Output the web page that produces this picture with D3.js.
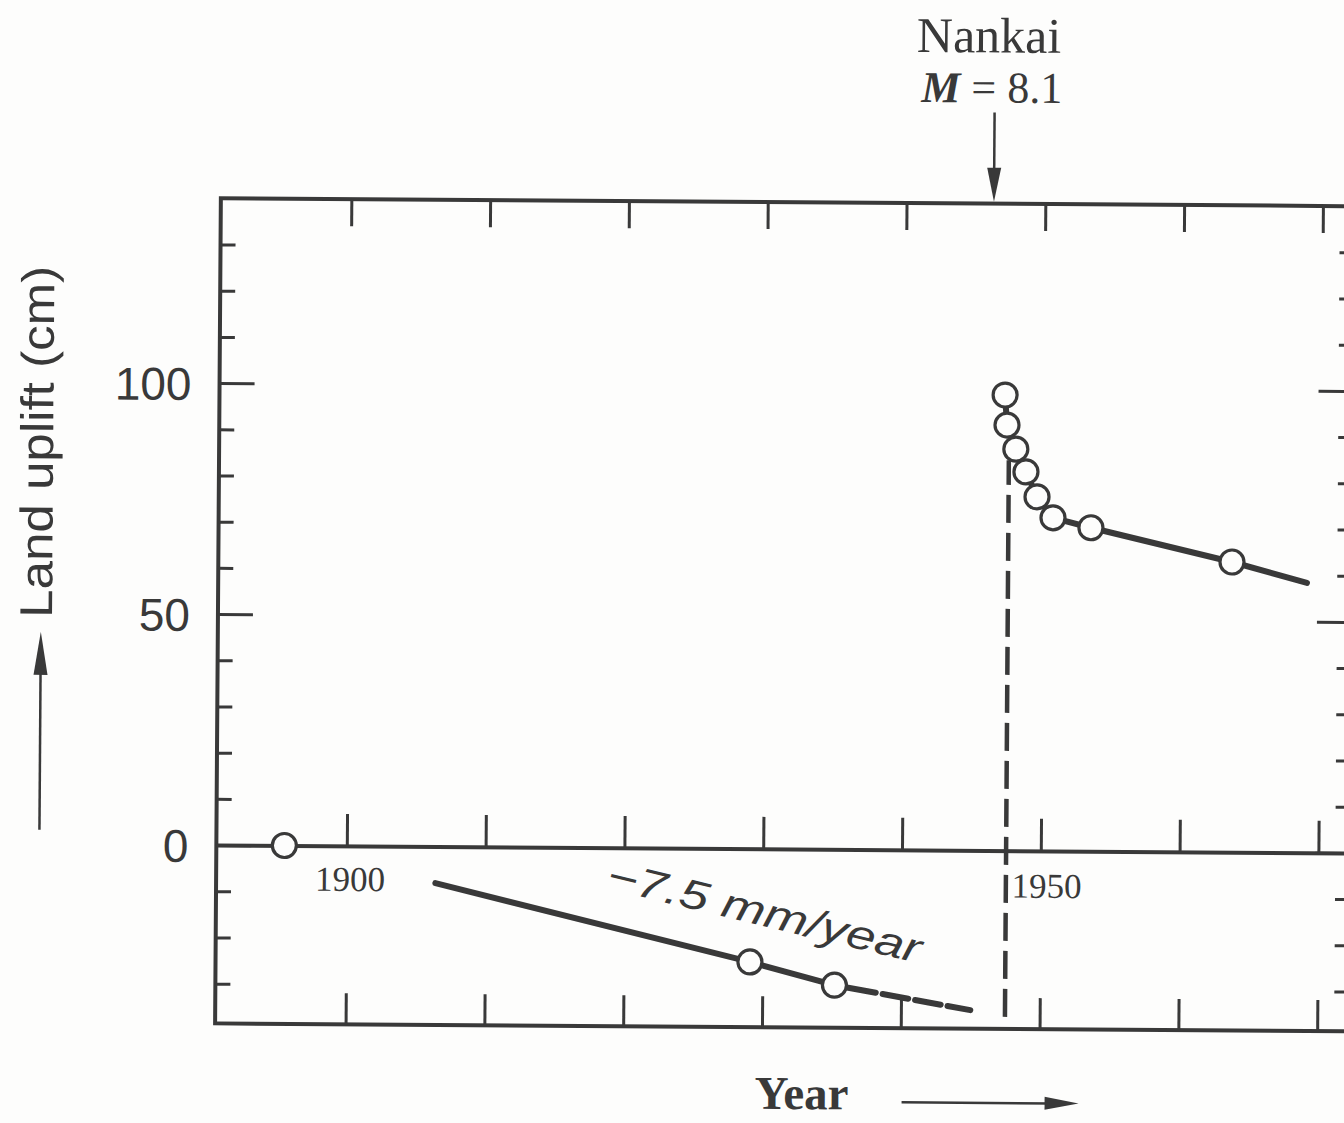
<!DOCTYPE html>
<html><head><meta charset="utf-8">
<script src="https://cdn.jsdelivr.net/npm/d3@7"></script>
<style>
html,body{margin:0;padding:0;background:#fdfdfc;}
svg{display:block;}
</style></head><body>
<svg id="chart" width="1344" height="1123"></svg>
<script>
// ---------------- data ----------------
const decadeTicks = [1900, 1910, 1920, 1930, 1940, 1950, 1960, 1970];
const labeledYears = [1900, 1950];
const yMajorTicks = [0, 50, 100];
const yMinorTicks = [-30, -20, -10, 10, 20, 30, 40, 60, 70, 80, 90, 110, 120, 130];

// observed benchmark values (open circles)
const obsYears  = [1895.5, 1929.1, 1935.2, 1947.2, 1947.35, 1948.0, 1948.74, 1949.55, 1950.71, 1953.45, 1963.63];
const obsValues = [0, -24.5, -29.4, 98.6, 92.1, 86.9, 82.0, 76.6, 72.1, 70.0, 62.8];

// pre-earthquake subsidence trend (solid) and its extrapolation (dashed)
const preTrendYears  = [1906.4, 1929.1, 1935.2];
const preTrendValues = [-7.9, -24.5, -29.4];
const extrapYears  = [1935.2, 1945.0];
const extrapValues = [-29.4, -34.6];

// post-earthquake curve
const postYears  = [1947.2, 1947.35, 1948.0, 1948.74, 1949.55, 1950.71, 1953.45, 1963.63, 1969.04];
const postValues = [98.6, 92.1, 86.9, 82.0, 76.6, 72.1, 70.0, 62.8, 58.4];

// coseismic jump (dashed vertical)
const jumpYear = 1947.5;
const jumpRange = [-36, 84.5];

// earthquake annotation
const quakeArrowYear = 1946.3;
const quakeName = "Nankai";
const quakeMag = "8.1";
const rateLabel = "\u22127.5 mm/year";
const rateAnchor = [1918.6, -8.7];

// ---------------- drawing ----------------
const ink = "#393939";
const bg = "#fdfdfc";
const svg = d3.select("#chart");
svg.append("rect").attr("width", 1344).attr("height", 1123).attr("fill", bg);

const root = svg.append("g").attr("transform", "rotate(0.4,780,610)");

const x = d3.scaleLinear().domain([1890.6, 1972.3]).range([218, 1352]);
const y = d3.scaleLinear().domain([-38.6, 140]).range([1027.3, 202.2]);
const [xL, xR] = x.range();
const [yB, yT] = y.range();

function style(g, w) {
  g.select(".domain").remove();
  g.selectAll(".tick line").attr("stroke", ink).attr("stroke-width", w);
}

// frame (left, top, bottom; right lies just outside the window)
root.append("rect")
  .attr("x", xL).attr("y", yT).attr("width", xR - xL).attr("height", yB - yT)
  .attr("fill", "none").attr("stroke", ink).attr("stroke-width", 4);

// left y axis
root.append("g").attr("transform", `translate(${xL},0)`)
  .call(d3.axisLeft(y).tickValues(yMinorTicks).tickSize(-15).tickFormat(""))
  .call(g => style(g, 3));
const leftMajor = root.append("g").attr("transform", `translate(${xL},0)`)
  .call(d3.axisLeft(y).tickValues(yMajorTicks).tickSize(-35).tickPadding(28).tickFormat(d3.format("d")))
  .call(g => style(g, 3));
leftMajor.selectAll("text")
  .attr("fill", ink).attr("font-family", "'Liberation Sans', Arial, sans-serif")
  .attr("font-size", 46).attr("dy", "0.36em");

// right y axis
root.append("g").attr("transform", `translate(${xR},0)`)
  .call(d3.axisRight(y).tickValues(yMinorTicks).tickSize(-15).tickFormat(""))
  .call(g => style(g, 3));
root.append("g").attr("transform", `translate(${xR},0)`)
  .call(d3.axisRight(y).tickValues(yMajorTicks).tickSize(-35).tickFormat(""))
  .call(g => style(g, 3));

// top x ticks
root.append("g").attr("transform", `translate(0,${yT})`)
  .call(d3.axisTop(x).tickValues(decadeTicks).tickSize(-27).tickFormat(""))
  .call(g => style(g, 3));
// bottom x ticks
root.append("g").attr("transform", `translate(0,${yB})`)
  .call(d3.axisBottom(x).tickValues(decadeTicks).tickSize(-31).tickFormat(""))
  .call(g => style(g, 3));
// zero line with upward ticks
const zeroAxis = root.append("g").attr("transform", `translate(0,${y(0)})`)
  .call(d3.axisTop(x).tickValues(decadeTicks).tickSize(32).tickSizeOuter(0).tickFormat(""));
zeroAxis.select(".domain").attr("stroke", ink).attr("stroke-width", 4);
zeroAxis.selectAll(".tick line").attr("stroke", ink).attr("stroke-width", 3);

// year labels under zero line
root.append("g").selectAll("text").data(labeledYears).join("text")
  .attr("x", d => x(d) + (d === 1950 ? 6 : 3.5))
  .attr("y", d => y(0) + (d === 1950 ? 47 : 45))
  .attr("text-anchor", "middle")
  .attr("font-family", "'Liberation Serif', 'Times New Roman', serif")
  .attr("font-size", 35).attr("fill", ink)
  .text(d => String(d));

// lines
const line = d3.line().x(d => x(d[0])).y(d => y(d[1]));
root.append("path")
  .attr("d", line(d3.zip(preTrendYears, preTrendValues)))
  .attr("fill", "none").attr("stroke", ink).attr("stroke-width", 6).attr("stroke-linecap", "round");
root.append("path")
  .attr("d", line(d3.zip(extrapYears, extrapValues)))
  .attr("fill", "none").attr("stroke", ink).attr("stroke-width", 6).attr("stroke-linecap", "round")
  .attr("stroke-dasharray", "42,7,26,7,26,7,40");
root.append("path")
  .attr("d", line([[jumpYear, jumpRange[0]], [jumpYear, jumpRange[1]]]))
  .attr("fill", "none").attr("stroke", ink).attr("stroke-width", 4.5)
  .attr("stroke-dasharray", "28,10");
root.append("path")
  .attr("d", line(d3.zip(postYears, postValues)))
  .attr("fill", "none").attr("stroke", ink).attr("stroke-width", 6).attr("stroke-linecap", "round")
  .attr("stroke-linejoin", "round");

// circles
root.append("g").selectAll("circle").data(d3.zip(obsYears, obsValues)).join("circle")
  .attr("cx", d => x(d[0])).attr("cy", d => y(d[1])).attr("r", 12)
  .attr("fill", bg).attr("stroke", ink).attr("stroke-width", 3.2);

// rate label
root.append("text")
  .attr("transform", `translate(${x(rateAnchor[0])},${y(rateAnchor[1])}) rotate(13.1)`)
  .attr("font-family", "'Liberation Sans', Arial, sans-serif")
  .attr("font-style", "italic").attr("font-size", 41).attr("fill", ink)
  .attr("textLength", 322).attr("lengthAdjust", "spacingAndGlyphs")
  .text(rateLabel);

// earthquake annotation
const qx = x(quakeArrowYear);
root.append("line").attr("x1", qx).attr("x2", qx).attr("y1", 111).attr("y2", yT - 30)
  .attr("stroke", ink).attr("stroke-width", 2.5);
root.append("path")
  .attr("d", `M${qx - 7},${yT - 36} L${qx + 7},${yT - 36} L${qx},${yT - 2} Z`)
  .attr("fill", ink);
root.append("text").attr("x", qx - 6).attr("y", 51).attr("text-anchor", "middle")
  .attr("font-family", "'Liberation Serif', 'Times New Roman', serif")
  .attr("font-size", 50).attr("fill", ink).text(quakeName);
const mt = root.append("text").attr("x", qx - 3).attr("y", 101).attr("text-anchor", "middle")
  .attr("font-family", "'Liberation Serif', 'Times New Roman', serif")
  .attr("font-size", 44).attr("fill", ink);
mt.append("tspan").attr("font-style", "italic").attr("font-weight", "bold").text("M");
mt.append("tspan").text(" = " + quakeMag);

// y axis title with arrow
root.append("text")
  .attr("transform", "translate(52,447) rotate(-90)")
  .attr("text-anchor", "middle")
  .attr("font-family", "'Liberation Sans', Arial, sans-serif")
  .attr("font-size", 46).attr("fill", ink)
  .attr("textLength", 352).attr("lengthAdjust", "spacingAndGlyphs")
  .text("Land uplift (cm)");
root.append("line").attr("x1", 41).attr("x2", 41).attr("y1", 835).attr("y2", 670)
  .attr("stroke", ink).attr("stroke-width", 2.5);
root.append("path").attr("d", "M34,680 L48,680 L41,637 Z").attr("fill", ink);

// x axis title with arrow
root.append("text").attr("x", 805).attr("y", 1109).attr("text-anchor", "middle")
  .attr("font-family", "'Liberation Serif', 'Times New Roman', serif")
  .attr("font-weight", "bold").attr("font-size", 47).attr("fill", ink).text("Year");
root.append("line").attr("x1", 905).attr("x2", 1055).attr("y1", 1101.5).attr("y2", 1101.5)
  .attr("stroke", ink).attr("stroke-width", 2.5);
root.append("path").attr("d", "M1048,1095 L1048,1108 L1082,1101.5 Z").attr("fill", ink);
</script>
</body></html>
